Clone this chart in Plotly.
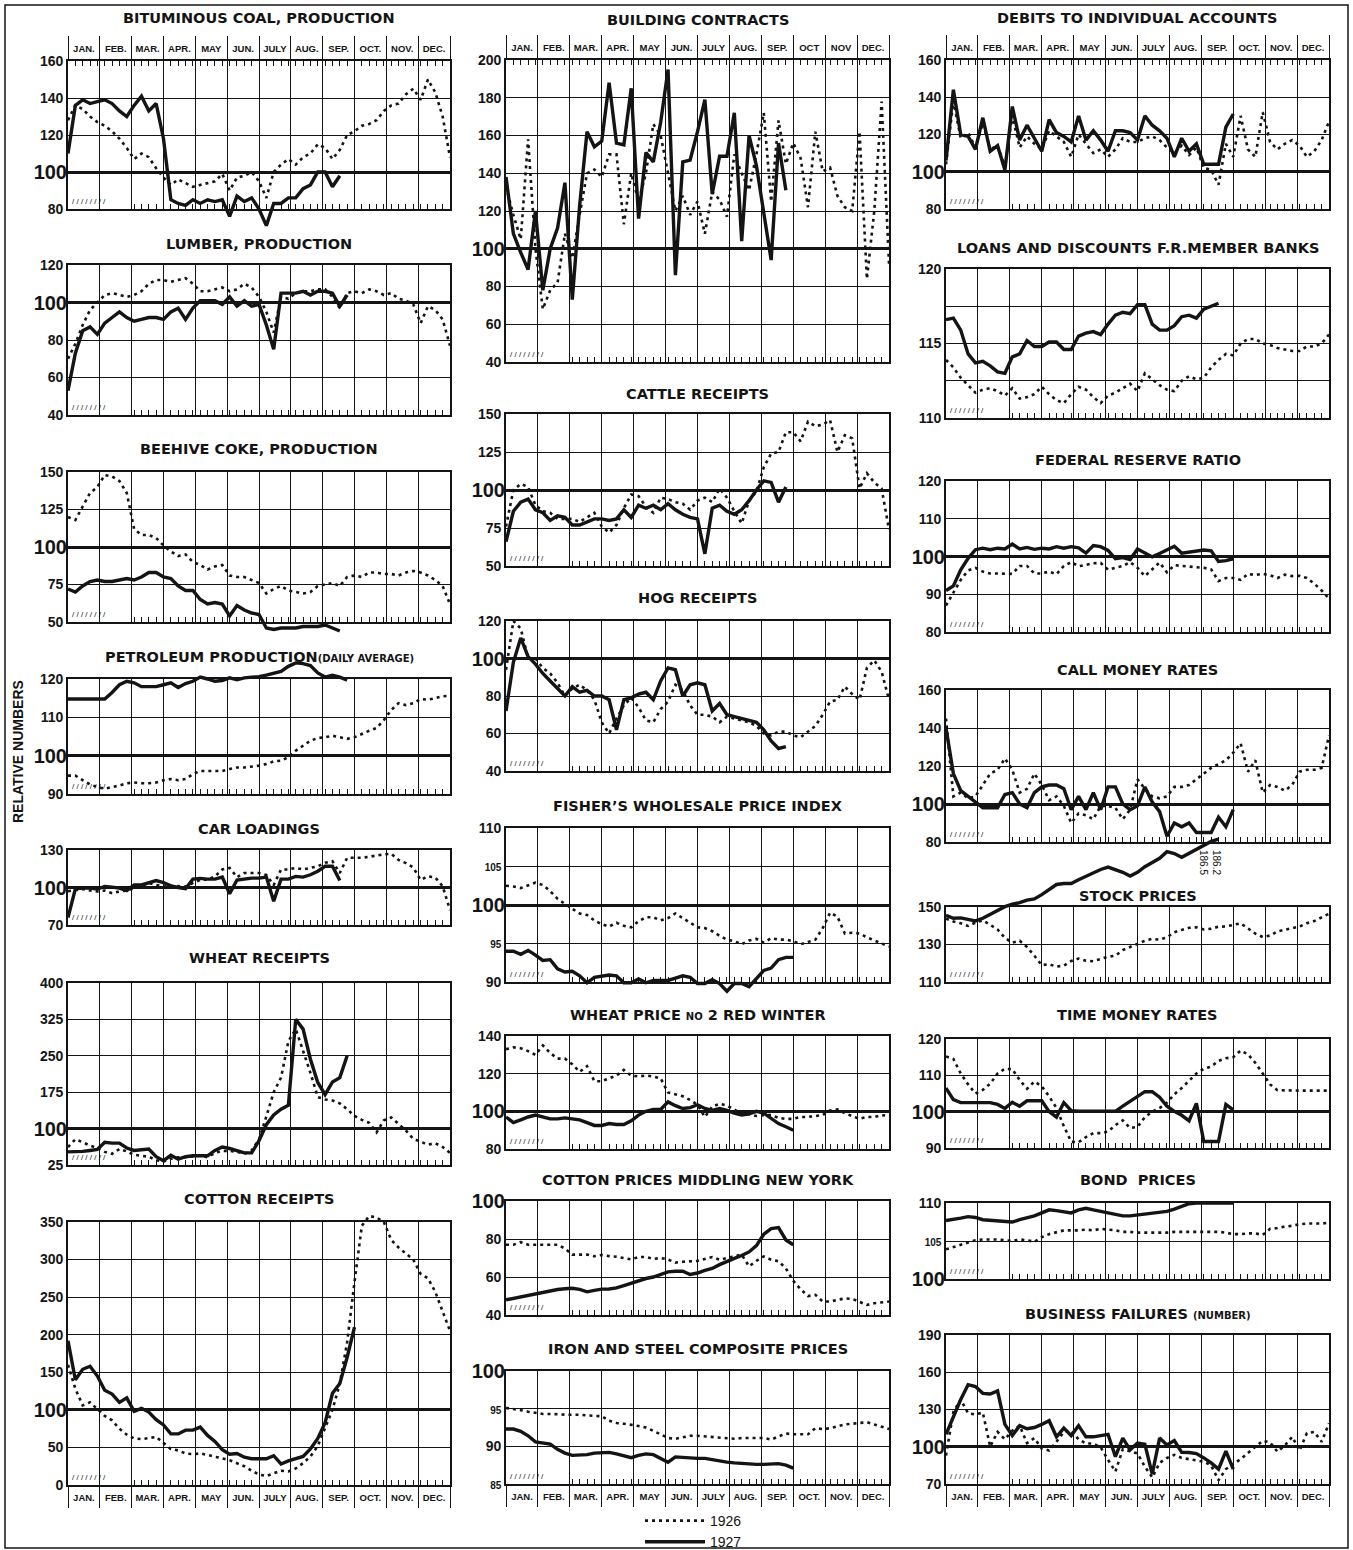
import plotly.graph_objects as go

W, H = 1353, 1550
WEEK = 12 / 52
INK = "#141414"
FONT = "Liberation Sans Narrow, Liberation Sans, Arial Narrow, Arial, sans-serif"
TFONT = "DejaVu Sans, Liberation Sans, Arial, sans-serif"
LFONT = "Liberation Sans, Arial, sans-serif"

MONTHS = ["JAN.", "FEB.", "MAR.", "APR.", "MAY", "JUN.", "JULY", "AUG.", "SEP.", "OCT.", "NOV.", "DEC."]
MONTHS_BC = ["JAN.", "FEB.", "MAR.", "APR.", "MAY", "JUN.", "JULY", "AUG.", "SEP.", "OCT", "NOV", "DEC."]

# ---------------- data (weekly readings, 1926 full year, 1927 to September) ----------------
bit26 = [128,136,134,130,127,125,122,118,113,107,110,108,102,97,93,96,94,92,93,94,95,99,90,97,98,100,95,86,100,104,107,104,108,110,115,113,107,112,120,122,125,126,128,133,136,137,142,145,139,150,143,130,108]
bit27 = [110,136,139,137,138,139,137,133,130,136,141,133,137,118,85,83,82,85,83,85,84,85,76,87,84,86,80,71,83,83,86,86,91,93,100,100,92,98]

lum26 = [70,78,88,96,100,104,105,104,103,104,106,110,112,112,111,112,113,110,106,106,107,108,106,107,110,108,103,95,84,103,102,105,106,106,107,107,103,97,105,106,105,107,106,104,105,102,101,99,89,98,96,91,77]
lum27 = [53,73,85,87,83,89,92,95,92,90,91,92,92,91,95,97,91,97,101,101,101,99,103,98,101,98,99,88,75,105,105,105,106,104,106,106,105,98,104]

coke26 = [120,118,127,136,140,148,147,144,136,112,108,108,106,101,97,94,95,90,88,85,87,88,81,80,80,78,76,69,72,74,71,70,69,70,74,75,76,74,80,81,80,83,83,82,82,81,83,84,83,81,78,74,62]
coke27 = [72,70,74,77,78,77,77,78,79,78,80,83,83,80,79,74,71,71,65,62,63,62,54,61,58,56,55,46,45,46,46,46,47,47,47,48,46,44]

pet26 = [94.8,94.8,93.6,92.5,91.8,91.4,91.8,92.2,92.8,93,92.8,92.8,93,93.6,93.9,93.6,93.9,95.2,96,96,96,96,96.5,96.9,96.9,97.1,97.4,97.8,98.5,98.7,99.6,101.3,102.6,103.9,104.6,104.8,105.2,104.8,104.4,104.8,105.7,106.5,107.2,109.3,111.9,113.7,113.2,113.7,114.8,114.6,115,115.5,115.6]
pet27 = [114.8,114.8,114.8,114.8,114.8,114.8,116.5,118.5,119.4,119,118,118,118,118.5,119,117.8,118.8,119.4,120.5,120,119.4,119.6,120.3,119.8,120.3,120.5,120.6,121,121.6,122,123.3,124.2,124,123.5,121.6,120.5,121,120.5,119.7]

car26 = [97,98,98.7,97.6,96.8,97.6,95.4,96.8,97.6,99.5,101.3,103.5,102,100.8,101.3,101.3,100.8,103.5,106.2,106.2,108.9,114.4,115.7,108.3,111.6,111.6,111.6,110,102,114.4,114.4,115.7,114.4,115.7,117,119.8,121,111.6,123.8,123.8,123.8,124.6,125.7,126.5,127,122,119.5,116,106,109,108,101,82]
car27 = [76,99,99.5,99.5,98.8,100.8,100.3,99.5,97.6,102,102,104,105.6,104,101.3,100,99,106.7,107.3,106.7,106.7,108.3,95,106,106.7,107.5,107.5,108.3,89,106.7,106.7,108.9,108.3,110.2,113,117,117,105.6]

wr26 = [62,78,72,65,60,52,48,58,53,46,44,42,35,32,38,41,41,42,44,41,50,54,54,52,48,55,78,125,175,205,280,305,260,215,165,160,158,152,140,126,118,112,92,117,123,110,96,79,73,67,70,62,50]
wr27 = [52,52,53,55,57,72,70,70,60,55,56,58,42,34,45,37,42,44,44,44,55,62,59,55,50,50,75,108,128,140,148,325,305,243,195,170,196,205,250]

cr26 = [160,128,106,110,101,92,86,75,67,62,61,63,64,56,48,46,42,41,42,40,38,35,33,29,25,19,14,12,16,19,18,22,29,38,52,75,100,135,190,270,345,358,356,350,326,316,308,300,281,275,257,232,205]
cr27 = [192,140,154,158,145,126,121,110,116,98,102,97,87,80,68,68,73,73,77,66,58,47,41,42,37,35,35,35,39,28,32,35,38,48,62,83,122,135,170,210]

bc26 = [133,118,105,158,100,68,78,82,108,95,118,140,142,138,150,150,113,140,125,140,166,160,140,120,128,118,125,108,130,126,117,150,140,131,150,172,125,168,145,156,148,122,162,141,143,128,122,120,162,84,120,178,92]
bc27 = [138,108,98,89,120,78,100,111,135,73,123,162,154,157,188,156,155,185,116,151,146,167,195,86,146,147,162,179,129,149,149,172,104,160,144,119,94,156,131]

cat26 = [76,100,104,102,90,86,85,81,81,81,79,82,85,76,72,77,88,97,96,89,85,95,94,92,91,87,93,95,92,101,95,86,78,93,99,115,124,125,138,138,132,145,142,143,146,125,136,134,101,111,105,101,74]
cat27 = [66,86,92,94,87,85,80,83,82,77,77,79,81,81,80,81,87,82,90,88,90,87,91,87,84,82,81,58,88,90,86,84,87,93,100,106,105,92,102]

hog26 = [94,120,116,100,100,95,92,87,80,84,86,83,78,66,60,68,75,79,74,67,66,73,77,86,83,75,70,70,69,66,69,68,67,66,64,60,59,61,61,59,58,61,64,70,77,78,85,81,78,95,99,93,78]
hog27 = [72,98,111,101,97,92,88,84,80,85,82,83,80,80,78,62,78,79,81,82,78,88,95,94,80,86,87,86,72,76,70,69,68,67,66,62,56,52,53]

fis26 = [102.5,102.4,102.2,102.6,102.9,102.6,101.8,100.8,100.1,99.5,98.9,98.7,98.0,97.5,97.2,97.7,97.3,97.1,97.9,98.4,98.4,98.0,98.3,98.9,98.3,97.7,97.1,97.0,96.6,96.0,95.5,95.3,94.9,95.4,95.6,95.1,95.7,95.5,95.5,95.3,94.9,95.2,95.5,97.0,99.0,98.5,96.3,96.4,96.3,95.8,95.4,95.0,94.6]
fis27 = [94.0,94.0,93.6,94.1,93.5,92.8,92.9,91.7,91.3,91.4,90.8,89.9,90.6,90.7,90.9,90.8,89.9,89.9,90.4,89.9,90.2,90.2,90.2,90.5,90.8,90.6,89.8,89.8,90.3,89.8,88.8,89.8,89.8,89.4,90.5,91.5,91.8,92.9,93.2,93.2]

wp26 = [133,134,133.5,132,130,135,131,128,128,125,121,124,116,116,117.5,119,122,119,118.5,119,118.5,117.5,110,109,108,106,103.5,97,102.5,104,103,101,98.5,98.5,97.5,98,98,96.5,96,96,97,97,97.5,98,100.5,101,99,97.5,96,97,97,98,97.5]
wp27 = [97,94,95.5,97,98,97,96,96,96.5,96,95.5,94,92.5,92.5,93.5,93,93,95,98,100,101,101,105,103,101.5,102,103.5,101.5,100.5,101.5,100.5,99,98,98.7,100,99,96,93.5,91.8,90]

cp26 = [77,77,78.3,77,77,77,77,77,75,71.8,71.8,71.8,70.9,71.6,71,70.7,70,69.3,70.5,70.5,69.5,70,69.2,67.6,68,68.3,68.5,69.5,70.5,69.1,70,70.8,71.8,65.6,68.5,70.8,69.1,68.3,64.5,58,53.5,50,50.6,47.1,47.1,48,48.7,48.5,47,45.3,46.2,46.6,47.1]
cp27 = [48,48.8,49.6,50.4,51.1,51.9,52.7,53.4,53.8,54.1,53.5,52.2,53,53.6,53.7,54.3,55.5,56.7,58.3,59.2,60,61.3,62.7,63,63,61.3,62.1,63.5,64.5,66.5,68.3,69.8,71.3,73.2,76.5,82.5,85.5,86,79.5,77]

ir26 = [95.1,95.0,94.8,94.6,94.4,94.3,94.3,94.2,94.2,94.2,94.2,94.1,94.1,94.0,93.4,93.1,93.0,92.9,92.7,92.5,92.1,91.6,91.1,91.0,91.2,91.4,91.4,91.3,91.2,91.1,91.1,91.0,91.1,91.1,91.1,91.1,90.9,91.3,91.7,91.6,91.6,91.6,92.4,92.3,92.4,92.7,92.9,93.0,93.1,93.2,92.9,92.6,92.3]
ir27 = [92.3,92.3,92,91.4,90.6,90.4,90.3,89.6,89.1,88.8,88.8,88.9,89.1,89.2,89.2,89,88.7,88.5,88.8,89,88.9,88.4,87.9,88.6,88.5,88.4,88.4,88.4,88.2,88,87.9,87.8,87.7,87.6,87.6,87.6,87.6,87.7,87.5,87.1]

deb26 = [104,138,118,121,113,126,112,114,103,130,113,119,115,112,122,119,116,108,120,115,110,112,108,112,118,116,116,118,119,117,113,110,114,109,113,102,101,93,115,108,130,112,108,132,116,112,115,117,114,108,111,117,127]
deb27 = [106,144,120,119,112,129,111,114,101,135,117,125,118,111,128,121,119,116,130,117,122,117,111,122,122,121,117,130,125,122,118,108,118,111,115,104,104,104,124,131]

loan26 = [113.9,113.4,112.7,112.2,111.7,111.9,112.0,111.8,111.5,112.0,111.3,111.4,111.6,112.1,111.6,111.2,111.0,111.6,112.1,111.9,111.4,111.0,111.5,111.7,112.0,112.3,111.8,113.0,112.6,112.2,111.9,111.8,112.5,112.8,112.6,112.7,113.4,113.9,114.3,114.2,115.0,115.3,115.3,115.0,114.9,114.7,114.6,114.5,114.5,114.8,114.8,115.0,115.6]
loan27 = [116.6,116.7,115.9,114.3,113.7,113.8,113.5,113.1,113.0,114.1,114.3,115.2,114.8,114.8,115.1,115.1,114.6,114.6,115.5,115.7,115.8,115.6,116.3,116.9,117.1,117.0,117.6,117.6,116.3,115.9,115.9,116.2,116.8,116.9,116.7,117.3,117.5,117.7]

frr26 = [87,90.5,93.8,96.3,97.0,96.0,95.5,95.5,95.5,95.4,97.5,97.5,95.5,95.5,96.0,95.3,97.5,98.5,97.4,97.7,98.2,98.3,96.5,97.0,97.5,98.5,97.0,94.8,96.5,98.4,95.8,97.7,97.5,97.3,97.2,97.0,96.6,93.5,94.3,94.3,93.8,95.4,95.1,95.4,95.0,94.3,95.2,94.8,94.9,94.3,92.8,91.0,88.8]
frr27 = [91,92.2,96.5,99.5,101.8,102.2,101.8,102.2,102,103.3,102,102.4,101.9,102.2,102,102.6,102.2,102.6,102.3,100.9,102.9,102.6,101.6,99.4,99.7,99.2,102,100.9,99.9,100.8,101.8,102.7,100.9,101.2,101.6,101.7,101.5,98.7,98.9,99.4]

call26 = [145,104,106,103,104,110,116,118,124,118,106,108,116,110,102,104,99,90,95,94,92,99,99,98,92,97,113,108,104,103,104,109,109,110,113,116,119,121,123,127,132,117,123,106,110,109,107,110,117,118,118,119,136]
call27 = [140,116,107,104,101,98,98,98,105,106,100,98,106,109,110,110,108,97,104,97,106,97,109,109,100,97,99,109,101,96,83,90,88,90,85,85,85,93,88,97]

stk26 = [143.8,142.3,141.3,139.9,141.7,142.9,140.5,138,133.5,131,132,128.6,124,119,119.5,118.2,118.7,121.2,122.5,121.3,121.1,122.5,123.5,124,127,128.7,130.3,132,133,132.6,133.8,136.5,137.8,138.9,139.2,138,138.4,139.5,139.6,140.3,141.3,138.6,135.8,134,134.8,137,137.9,138.9,139.6,141.4,142.5,144.5,146.4]
stk27 = [145.5,144,144.2,143.6,142.6,144,146,148.3,150.2,151.5,152.3,153.7,154.3,156.6,159.5,162,162.5,162.5,164.5,166.5,168.5,170,171.3,170,168.5,166.5,168.5,171.5,174,176,179.5,178.5,176.5,178.5,181,183,185,186.2]

tm26 = [115.2,114.5,110.5,107.5,105,106,107.7,110.5,111.8,111.7,108.7,106.3,108.3,107,104.2,101,96,91.7,91.6,93,94.1,94.1,94.5,96.3,97.6,95.5,95.8,98.5,100,101,102.5,104.8,106.5,108.6,110.5,111.8,112.4,114,114.7,115,116.8,115.8,113.4,110.5,107.5,105.9,105.8,105.8,105.8,105.8,105.8,105.8,105.8]
tm27 = [106.5,103.3,102.5,102.5,102.5,102.5,102.5,102,100.9,102.6,101.5,103,103.1,103,100,98.5,102.5,100.3,100.1,100.1,100.1,100.1,100.1,100.1,101.5,102.8,104,105.5,105.5,104,101.5,100.1,99,97.5,102.3,91.8,91.8,91.8,102,100.5]

bond26 = [103.9,104.2,104.6,104.9,105.1,105.2,105.2,105.2,105.1,105.0,105.2,105.1,104.9,105.5,105.9,106.2,106.4,106.4,106.4,106.5,106.4,106.6,106.5,106.4,106.2,106.2,106.1,106.1,106.1,106.1,106.1,106.2,106.2,106.2,106.2,106.2,106.2,106.2,106.1,105.9,105.9,106.0,106.0,105.8,106.6,106.7,106.9,107.0,107.2,107.3,107.3,107.3,107.4]
bond27 = [107.7,107.8,108,108.2,108.1,107.8,107.7,107.7,107.5,107.5,107.8,108,108.3,108.7,109.1,109,108.9,108.7,109.1,109.3,109.1,108.9,108.7,108.5,108.3,108.3,108.4,108.6,108.6,108.7,108.9,109.2,109.6,109.9,110,110,110,110,110,110]

fail26 = [93,128,138,127,126,127.5,100,112,106,113,117,103,107,98.5,97,104,112,113,106,102.6,102.6,99.5,89.5,80,98,96,94.6,84,75.3,87,91,93.5,91,90,89,88,85,73,82,86,90,95,100,104.8,103.5,96,101,108,97,111,112,104,119]
fail27 = [110,124,138,150,148.5,143,142.5,145,118,109,117,114.5,115.5,118,121,108,115,109,117,108,108,109,110,92,107,97.5,103,102,78,107,101.5,105,95.5,95.4,94.5,91,87,82,96.5,82]

# ---------------- panel layout (pixel geometry) ----------------
COLS = {1: (68, 450), 2: (506, 889), 3: (946, 1329)}

PANELS = [
    dict(title="BITUMINOUS COAL, PRODUCTION", col=1, top=61, bot=209, rng=(80, 160), ticks=[80, 120, 140, 160], ty=18, months="top", d26=bit26, d27=bit27, pb=22),
    dict(title="LUMBER, PRODUCTION", col=1, top=265, bot=415, rng=(40, 120), ticks=[40, 60, 80, 120], ty=244, d26=lum26, d27=lum27),
    dict(title="BEEHIVE COKE, PRODUCTION", col=1, top=472, bot=622, rng=(50, 150), ticks=[50, 75, 125, 150], ty=449, d26=coke26, d27=coke27, pb=18),
    dict(title="PETROLEUM PRODUCTION<span style='font-size:10px'>(DAILY AVERAGE)</span>", col=1, top=679, bot=794, rng=(90, 120), ticks=[90, 110, 120], ty=657, d26=pet26, d27=pet27, pt=22),
    dict(title="CAR LOADINGS", col=1, top=850, bot=925, rng=(70, 130), ticks=[70, 130], ty=829, d26=car26, d27=car27),
    dict(title="WHEAT RECEIPTS", col=1, top=983, bot=1165, rng=(25, 400), ticks=[25, 175, 250, 325, 400], ty=958, d26=wr26, d27=wr27),
    dict(title="COTTON RECEIPTS", col=1, top=1222, bot=1485, rng=(0, 350), ticks=[0, 50, 150, 200, 250, 300, 350], ty=1199, months="bottom", d26=cr26, d27=cr27),

    dict(title="BUILDING CONTRACTS", col=2, top=60, bot=362, rng=(40, 200), ticks=[40, 60, 80, 120, 140, 160, 180, 200], ty=20, months="top", mlabels=MONTHS_BC, d26=bc26, d27=bc27),
    dict(title="CATTLE RECEIPTS", col=2, top=414, bot=566, rng=(50, 150), ticks=[50, 75, 125, 150], ty=394, d26=cat26, d27=cat27),
    dict(title="HOG RECEIPTS", col=2, top=621, bot=771, rng=(40, 120), ticks=[40, 60, 80, 120], ty=598, d26=hog26, d27=hog27),
    dict(title="FISHER\u2019S WHOLESALE PRICE INDEX", col=2, top=828, bot=982, rng=(90, 110), ticks=[90, 95, 105, 110], small=[95, 105], ty=806, d26=fis26, d27=fis27),
    dict(title="WHEAT PRICE <span style='font-size:10px'>NO</span> 2 RED WINTER", col=2, top=1036, bot=1149, rng=(80, 140), ticks=[80, 120, 140], ty=1015, d26=wp26, d27=wp27),
    dict(title="COTTON PRICES MIDDLING NEW YORK", col=2, top=1201, bot=1315, rng=(40, 100), ticks=[40, 60, 80], ty=1180, d26=cp26, d27=cp27),
    dict(title="IRON AND STEEL COMPOSITE PRICES", col=2, top=1371, bot=1484, rng=(85, 100), ticks=[85, 90, 95], small=[85, 95], ty=1349, months="bottom", d26=ir26, d27=ir27),

    dict(title="DEBITS TO INDIVIDUAL ACCOUNTS", col=3, top=60, bot=209, rng=(80, 160), ticks=[80, 120, 140, 160], ty=18, months="top", d26=deb26, d27=deb27),
    dict(title="LOANS AND DISCOUNTS F.R.MEMBER BANKS", col=3, top=269, bot=418, rng=(110, 120), ticks=[110, 112.5, 115, 117.5, 120], blank=[112.5, 117.5], ty=248, d26=loan26, d27=loan27),
    dict(title="FEDERAL RESERVE RATIO", col=3, top=481, bot=632, rng=(80, 120), ticks=[80, 90, 110, 120], ty=460, d26=frr26, d27=frr27),
    dict(title="CALL MONEY RATES", col=3, top=690, bot=842, rng=(80, 160), ticks=[80, 120, 140, 160], ty=670, d26=call26, d27=call27),
    dict(title="STOCK PRICES", col=3, top=907, bot=982, rng=(110, 150), ticks=[110, 130, 150], ty=896, d26=stk26, d27=stk27, pt=80),
    dict(title="TIME MONEY RATES", col=3, top=1039, bot=1148, rng=(90, 120), ticks=[90, 110, 120], ty=1015, d26=tm26, d27=tm27),
    dict(title="BOND  PRICES", col=3, top=1203, bot=1279, rng=(100, 110), ticks=[105, 110], small=[105], ty=1180, d26=bond26, d27=bond27),
    dict(title="BUSINESS FAILURES <span style='font-size:10px'>(NUMBER)</span>", col=3, top=1335, bot=1484, rng=(70, 190), ticks=[70, 130, 160, 190], ty=1314, months="bottom", d26=fail26, d27=fail27),
]

fig = go.Figure()
lay = {}
ann = []
cnt = {"x": 0, "y": 0}


def new(kind):
    cnt[kind] += 1
    i = cnt[kind]
    return (f"{kind}axis" if i == 1 else f"{kind}axis{i}"), (kind if i == 1 else f"{kind}{i}")


def dummy(xr, yr):
    fig.add_trace(go.Scatter(x=[None], y=[None], xaxis=xr, yaxis=yr, mode="lines",
                             showlegend=False, hoverinfo="skip"))


def overlay_x(base_x, base_y, side, tickvals, ticks, ticklen, tickcolor=INK, ticktext=None, fsize=10):
    k, r = new("x")
    d = dict(overlaying=base_x, anchor=base_y, side=side, range=[0, 12], tickmode="array",
             tickvals=tickvals, ticks=ticks, ticklen=ticklen, tickwidth=1, tickcolor=tickcolor,
             showgrid=False, zeroline=False, showline=False, fixedrange=True)
    if ticktext is None:
        d["showticklabels"] = False
    else:
        d["ticktext"] = ticktext
        d["tickfont"] = dict(family=FONT, size=fsize, color=INK, weight="bold")
    lay[k] = d
    dummy(r, base_y)


first = True
for p in PANELS:
    x0, x1 = COLS[p["col"]]
    top, bot = p["top"], p["bot"]
    lo, hi = p["rng"]
    xdom = [x0 / W, x1 / W]
    ydom = [1 - bot / H, 1 - top / H]

    # visible frame + grid
    xk, xr = new("x")
    yk, yr = new("y")
    lay[xk] = dict(domain=xdom, range=[0, 12], anchor=yr, tickmode="array", tickvals=list(range(13)),
                   ticks="", showticklabels=False, showgrid=True, gridcolor=INK, gridwidth=1,
                   showline=True, linecolor=INK, linewidth=1.6, mirror=True, zeroline=False, fixedrange=True)
    small = p.get("small", [])
    blank = p.get("blank", [])
    tt = []
    for v in p["ticks"]:
        lab = ("%g" % v)
        if v in blank:
            lab = ""
        elif v in small:
            lab = "<span style='font-size:10px'>%s</span>" % lab
        tt.append(lab)
    lay[yk] = dict(domain=ydom, range=[lo, hi], anchor=xr, tickmode="array", tickvals=p["ticks"], ticktext=tt,
                   ticks="", showgrid=True, gridcolor=INK, gridwidth=1, showline=True, linecolor=INK,
                   linewidth=1.6, mirror=True, zeroline=False, fixedrange=True,
                   tickfont=dict(family=FONT, size=14, color=INK, weight="bold"))
    dummy(xr, yr)

    # heavy 100 line with large label
    if lo <= 100 <= hi:
        hk, hr = new("y")
        lay[hk] = dict(overlaying=yr, anchor=xr, side="left", range=[lo, hi], tickmode="array",
                       tickvals=[100], ticktext=["100"], ticks="", showgrid=True, gridcolor=INK,
                       gridwidth=2.6, zeroline=False, showline=False, fixedrange=True,
                       tickfont=dict(family=FONT, size=20, color=INK, weight="bold"))
        dummy(xr, hr)

    # weekly ticks along the bottom (after the axis break)
    overlay_x(xr, yr, "bottom", [i * WEEK for i in range(9, 52)], "inside", 5)

    mlab = p.get("mlabels", MONTHS)
    if p.get("months") == "top":
        overlay_x(xr, yr, "top", [i * WEEK for i in range(1, 52)], "inside", 5)
        overlay_x(xr, yr, "top", [m + 0.5 for m in range(12)], "outside", 4, "rgba(0,0,0,0)", mlab, 9.5)
        overlay_x(xr, yr, "top", list(range(13)), "outside", 24)
    elif p.get("months") == "bottom":
        overlay_x(xr, yr, "bottom", [m + 0.5 for m in range(12)], "outside", 4, "rgba(0,0,0,0)", mlab, 9.5)
        overlay_x(xr, yr, "bottom", list(range(13)), "outside", 22)

    # data axes (same scale, extended so lines may run past the frame)
    pt, pb = p.get("pt", 16), p.get("pb", 16)
    sc = (hi - lo) / (bot - top)
    dxk, dxr = new("x")
    dyk, dyr = new("y")
    lay[dxk] = dict(domain=xdom, range=[0, 12], anchor=dyr, visible=False, fixedrange=True)
    lay[dyk] = dict(domain=[1 - (bot + pb) / H, 1 - (top - pt) / H], range=[lo - pb * sc, hi + pt * sc],
                    anchor=dxr, visible=False, fixedrange=True)

    d26, d27 = p["d26"], p["d27"]
    fig.add_trace(go.Scatter(x=[i * WEEK for i in range(len(d26))], y=d26, xaxis=dxr, yaxis=dyr, mode="lines",
                             line=dict(color=INK, width=2.6, dash="3px,4px"), name="1926",
                             legendgroup="1926", showlegend=first, hoverinfo="skip"))
    fig.add_trace(go.Scatter(x=[i * WEEK for i in range(len(d27))], y=d27, xaxis=dxr, yaxis=dyr, mode="lines",
                             line=dict(color=INK, width=3.4), name="1927",
                             legendgroup="1927", showlegend=first, hoverinfo="skip"))
    first = False

    # title
    ann.append(dict(x=(x0 + x1) / 2 / W, y=1 - p["ty"] / H, xref="paper", yref="paper", text=p["title"],
                    showarrow=False, xanchor="center", yanchor="middle",
                    font=dict(family=TFONT, size=14.5, color=INK, weight="bold")))
    # axis-break marks
    ann.append(dict(x=(x0 + 2) / W, y=1 - (bot - 1) / H, xref="paper", yref="paper", text="/ / / / / / / /",
                    showarrow=False, xanchor="left", yanchor="bottom",
                    font=dict(family=LFONT, size=8, color=INK)))

ann.append(dict(x=18 / W, y=1 - 752 / H, xref="paper", yref="paper", text="<b>RELATIVE NUMBERS</b>",
                textangle=-90, showarrow=False, xanchor="center", yanchor="middle",
                font=dict(family=LFONT, size=14, color=INK)))
ann.append(dict(x=1224 / W, y=1 - 862 / H, xref="paper", yref="paper", text="186.2<br>186.5",
                textangle=90, showarrow=False, font=dict(family=LFONT, size=10, color=INK)))

fig.update_layout(
    width=W, height=H, margin=dict(l=0, r=0, t=0, b=0, autoexpand=False),
    paper_bgcolor="white", plot_bgcolor="rgba(0,0,0,0)",
    hovermode=False, annotations=ann,
    legend=dict(x=640 / W, y=1 - 1505 / H, xanchor="left", yanchor="top", bgcolor="rgba(0,0,0,0)",
                font=dict(family=LFONT, size=14, color=INK), tracegroupgap=0, itemwidth=60),
    shapes=[dict(type="rect", xref="paper", yref="paper", x0=5 / W, x1=1348 / W, y0=1 - 1548 / H, y1=1 - 5 / H,
                 line=dict(color=INK, width=1.5))],
    **lay,
)

fig.write_html("out.html", config={"displayModeBar": False},
               post_script="document.body.style.margin='0';document.body.style.padding='0';"
                           "document.body.style.overflow='hidden';")
